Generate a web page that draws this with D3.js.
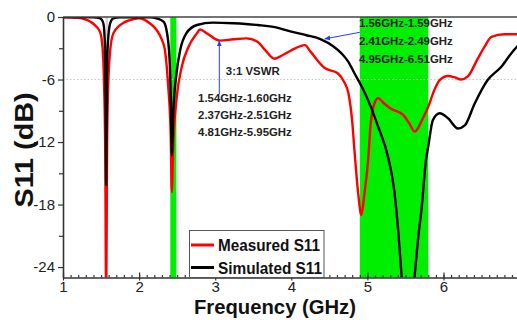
<!DOCTYPE html>
<html>
<head>
<meta charset="utf-8">
<script src="https://cdn.jsdelivr.net/npm/d3@7"></script>
<style>
  body { margin: 0; background: #fff; }
  svg { display: block; font-family: Arial, "Liberation Sans", sans-serif; }
</style>
</head>
<body>
<svg id="vis" width="517" height="320"></svg>
<script>
// measured S11 (red)
const meas_f  = [1.00, 1.20, 1.30, 1.36, 1.44, 1.49, 1.52, 1.54, 1.555, 1.567, 1.58, 1.59, 1.62, 1.66, 1.75, 1.88, 2.00, 2.14, 2.23, 2.30, 2.34, 2.38, 2.415, 2.43, 2.45, 2.49, 2.56, 2.65, 2.76, 2.80, 2.89, 3.06, 3.24, 3.41, 3.56, 3.66, 3.78, 3.90, 4.00, 4.18, 4.25, 4.44, 4.61, 4.70, 4.75, 4.80, 4.83, 4.88, 4.92, 4.96, 5.01, 5.04, 5.08, 5.14, 5.22, 5.31, 5.47, 5.55, 5.62, 5.67, 5.71, 5.80, 5.88, 5.95, 6.06, 6.15, 6.23, 6.32, 6.45, 6.54, 6.63, 6.80, 7.00];
const meas_db = [-0.02, -0.08, -0.25, -0.45, -0.93, -1.5, -3.0, -6.5, -13, -27, -12, -7.5, -3.2, -1.6, -0.77, -0.29, -0.12, -0.6, -1.25, -2.2, -3.2, -6.4, -11.2, -16.8, -12, -8.0, -4.8, -2.85, -1.57, -1.2, -1.57, -2.27, -2.14, -2.05, -2.4, -3.2, -4.0, -3.6, -3.2, -2.7, -3.3, -4.9, -5.4, -6.3, -7.3, -10, -12.8, -17, -19, -17, -13.7, -10.5, -8.6, -7.8, -8.3, -8.8, -9.4, -10.2, -11.0, -10.6, -10.0, -8.6, -7.0, -6.05, -5.66, -5.8, -6.0, -5.7, -4.0, -2.85, -1.9, -1.66, -1.66];

// simulated S11 (black)
const sim_f  = [1.00, 1.40, 1.49, 1.53, 1.55, 1.56, 1.567, 1.575, 1.59, 1.62, 1.66, 1.75, 2.15, 2.23, 2.32, 2.36, 2.40, 2.42, 2.43, 2.45, 2.49, 2.54, 2.62, 2.76, 2.97, 3.24, 3.56, 3.80, 4.00, 4.20, 4.39, 4.55, 4.66, 4.75, 4.83, 4.92, 5.01, 5.14, 5.27, 5.35, 5.40, 5.45, 5.53, 5.62, 5.67, 5.71, 5.77, 5.80, 5.86, 5.95, 6.06, 6.19, 6.28, 6.41, 6.58, 6.76, 6.90, 7.00];
const sim_db = [0, -0.02, -0.13, -0.6, -2.5, -7, -16.1, -7, -2.5, -0.6, -0.13, -0.02, -0.02, -0.13, -0.45, -1.25, -4, -9, -13.3, -9, -5.5, -3.17, -1.57, -0.77, -0.54, -0.6, -0.77, -1.0, -1.41, -1.75, -2.14, -2.8, -3.49, -4.3, -5.4, -6.6, -8.0, -10.5, -13.4, -16.5, -20.1, -24.9, -32, -24.9, -21, -18.5, -13.7, -12.4, -9.9, -9.24, -9.72, -10.7, -10.4, -8.3, -6.05, -4.77, -3.4, -2.6];

// shaded bands [start, end, colour]
const bands = [[1.56, 1.59, "#d4d4d4"], [2.41, 2.49, "#00ee00"], [4.90, 5.80, "#00ee00"]];

const x_ticks = [1, 2, 3, 4, 5, 6];
const y_ticks = [0, -6, -12, -18, -24];
const y_minor = [-3, -9, -15, -21];

const left_note = ["1.54GHz-1.60GHz", "2.37GHz-2.51GHz", "4.81GHz-5.95GHz"];
const right_note = ["1.56GHz-1.59GHz", "2.41GHz-2.49GHz", "4.95GHz-6.51GHz"];

const svg = d3.select("#vis");
const x = d3.scaleLinear().domain([1, 7]).range([63, 519.6]);
const y = d3.scaleLinear().domain([-25, 0]).range([277.5, 17]);

svg.append("defs").append("clipPath").attr("id", "clip")
  .append("rect").attr("x", x(1)).attr("y", y(0)).attr("width", x(7) - x(1)).attr("height", y(-25) - y(0));

svg.selectAll("rect.band").data(bands).join("rect")
  .attr("class", "band")
  .attr("x", d => x(d[0])).attr("width", d => x(d[1]) - x(d[0]))
  .attr("y", y(0)).attr("height", y(-25) - y(0))
  .attr("fill", d => d[2]);

// 3:1 VSWR reference line
svg.append("line")
  .attr("x1", x(1)).attr("x2", x(7)).attr("y1", y(-6)).attr("y2", y(-6))
  .attr("stroke", "#c8c8c8").attr("stroke-dasharray", "1.5,2");

const line = d3.line().x(d => x(d[0])).y(d => y(d[1])).curve(d3.curveMonotoneX);
const meas = meas_f.map((f, i) => [f, meas_db[i]]);
const sim = sim_f.map((f, i) => [f, sim_db[i]]);

const plot = svg.append("g").attr("clip-path", "url(#clip)");
plot.append("path").datum(meas).attr("d", line)
  .attr("fill", "none").attr("stroke", "#ff0000").attr("stroke-width", 2.4);
plot.append("path").datum(sim).attr("d", line)
  .attr("fill", "none").attr("stroke", "#000").attr("stroke-width", 2.4);

// top frame line
svg.append("line")
  .attr("x1", x(1)).attr("x2", 517).attr("y1", y(0)).attr("y2", y(0))
  .attr("stroke", "#444").attr("stroke-width", 1.5);

// axes
const xg = svg.append("g").attr("transform", `translate(0,${y(-25)})`)
  .call(d3.axisBottom(x).tickValues(x_ticks).tickSize(-5).tickSizeOuter(0).tickPadding(4).tickFormat(d => d));
svg.append("g").attr("transform", `translate(0,${y(-25)})`)
  .call(d3.axisBottom(x).tickValues(d3.range(11, 70).map(v => v / 10)).tickSize(-2.5).tickSizeOuter(0).tickFormat(""))
  .select(".domain").remove();
xg.selectAll(".tick line").attr("y1", -5).attr("y2", 3);

svg.append("g").attr("transform", `translate(${x(1)},0)`)
  .call(d3.axisLeft(y).tickValues(y_ticks).tickSize(5).tickSizeOuter(0).tickPadding(3).tickFormat(d => String(d)));
svg.append("g").attr("transform", `translate(${x(1)},0)`)
  .call(d3.axisLeft(y).tickValues(y_minor).tickSize(4).tickSizeOuter(0).tickFormat(""))
  .select(".domain").remove();

svg.selectAll(".domain").attr("stroke", "#333").attr("stroke-width", 1.6);
svg.selectAll(".tick line").attr("stroke", "#333").attr("stroke-width", 1.2);
svg.selectAll(".tick text").attr("font-size", 15).attr("fill", "#222")
  .attr("font-family", "Arial, 'Liberation Sans', sans-serif");

// axis titles
svg.append("text").attr("x", 275).attr("y", 314).attr("text-anchor", "middle")
  .attr("font-weight", "bold").attr("font-size", 20).attr("textLength", 162)
  .attr("lengthAdjust", "spacingAndGlyphs").attr("fill", "#111").text("Frequency (GHz)");
svg.append("text").attr("transform", "translate(33,150) rotate(-90)").attr("text-anchor", "middle")
  .attr("font-weight", "bold").attr("font-size", 25).attr("textLength", 115)
  .attr("lengthAdjust", "spacingAndGlyphs").attr("fill", "#111").text("S11 (dB)");

// annotations
const note = svg.append("g").attr("font-weight", "bold").attr("font-size", 11.4).attr("fill", "#222");
note.append("text").attr("x", x(3.14)).attr("y", y(-5.6)).text("3:1 VSWR");
note.selectAll("text.l").data(left_note).join("text").attr("class", "l")
  .attr("x", x(2.775)).attr("y", (d, i) => y(-8.2 - i * 1.63)).text(d => d);
note.selectAll("text.r").data(right_note).join("text").attr("class", "r")
  .attr("x", x(4.89)).attr("y", (d, i) => y(-0.95 - i * 1.75)).text(d => d);

svg.append("defs").append("marker").attr("id", "arr")
  .attr("viewBox", "0 0 10 10").attr("refX", 9).attr("refY", 5)
  .attr("markerWidth", 6).attr("markerHeight", 6).attr("orient", "auto")
  .append("path").attr("d", "M0,1 L10,5 L0,9 Z").attr("fill", "#1f3dff");
svg.append("line").attr("x1", x(3.054)).attr("x2", x(3.054)).attr("y1", y(-7.4)).attr("y2", y(-2.3))
  .attr("stroke", "#1f3dff").attr("stroke-width", 1).attr("marker-end", "url(#arr)");
svg.append("line").attr("x1", x(4.90)).attr("x2", x(4.44)).attr("y1", y(-1.47)).attr("y2", y(-2.1))
  .attr("stroke", "#1f3dff").attr("stroke-width", 1).attr("marker-end", "url(#arr)");

// legend
const lg = svg.append("g");
lg.append("rect").attr("x", 189.5).attr("y", 230.5).attr("width", 134.5).attr("height", 47)
  .attr("fill", "#fff").attr("stroke", "#555").attr("stroke-width", 1);
const legend_items = [["Measured S11", "#ff0000"], ["Simulated S11", "#000"]];
legend_items.forEach((d, i) => {
  const yy = 245 + i * 22.5;
  lg.append("line").attr("x1", 191).attr("x2", 214).attr("y1", yy).attr("y2", yy)
    .attr("stroke", d[1]).attr("stroke-width", 3);
  lg.append("text").attr("x", 218).attr("y", yy + 6).attr("font-weight", "bold").attr("font-size", 17)
    .attr("textLength", i ? 104 : 102).attr("lengthAdjust", "spacingAndGlyphs").attr("fill", "#111").text(d[0]);
});
</script>
</body>
</html>
